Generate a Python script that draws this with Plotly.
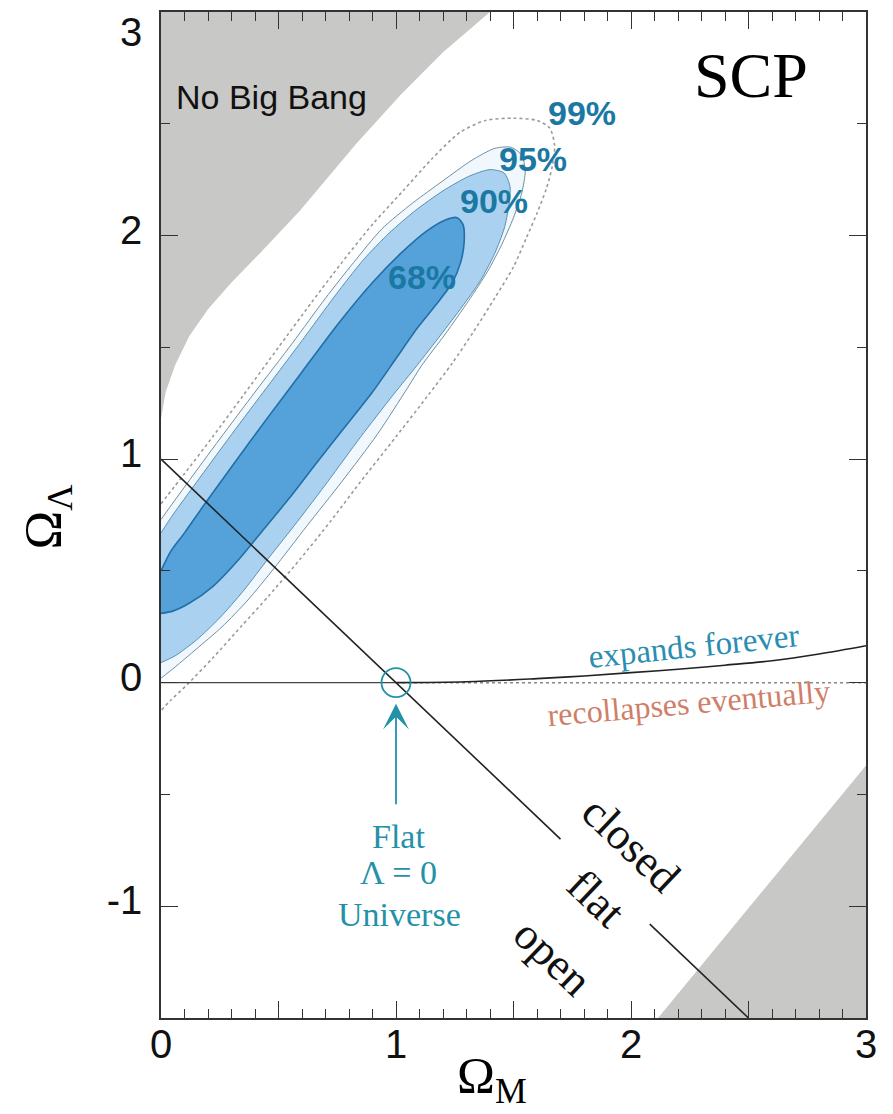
import plotly.graph_objects as go

# ---------------- data ----------------
# "No Big Bang" excluded region (upper left)
nbb_x = [0.0, 1.40, 1.20, 1.02, 0.83, 0.59, 0.42, 0.30, 0.20, 0.12, 0.06, 0.02, 0.0]
nbb_y = [3.0, 3.0, 2.82, 2.63, 2.41, 2.11, 1.92, 1.79, 1.67, 1.55, 1.42, 1.30, 1.18]

# excluded region (lower right)
lr_x = [2.115, 3.0, 3.0]
lr_y = [-1.5, -0.37, -1.5]

# confidence contours
c99_x = [0.0, 0.10, 0.22, 0.35, 0.50, 0.64, 0.77, 0.90, 1.03, 1.15, 1.27, 1.38, 1.50, 1.60,
         1.655, 1.675, 1.665, 1.64, 1.60, 1.555, 1.50, 1.42, 1.33, 1.24, 1.14, 1.00, 0.85,
         0.72, 0.59, 0.46, 0.34, 0.22, 0.11, 0.04, 0.0]
c99_y = [0.80, 0.935, 1.10, 1.285, 1.50, 1.70, 1.88, 2.05, 2.20, 2.34, 2.46, 2.515, 2.525, 2.515,
         2.48, 2.40, 2.31, 2.21, 2.10, 1.99, 1.86, 1.72, 1.57, 1.43, 1.29, 1.10, 0.90,
         0.72, 0.55, 0.39, 0.25, 0.11, -0.01, -0.08, -0.125]

c95_x = [0.0, 0.11, 0.25, 0.40, 0.56, 0.70, 0.82, 0.94, 1.07, 1.20, 1.32, 1.42, 1.49, 1.535,
         1.55, 1.535, 1.50, 1.45, 1.39, 1.31, 1.21, 1.11, 1.05, 0.92, 0.77, 0.62, 0.48, 0.37,
         0.26, 0.15, 0.06, 0.0]
c95_y = [0.73, 0.89, 1.09, 1.30, 1.52, 1.72, 1.88, 2.03, 2.145, 2.245, 2.335, 2.39, 2.395, 2.36,
         2.29, 2.19, 2.08, 1.96, 1.84, 1.71, 1.56, 1.42, 1.32, 1.11, 0.90, 0.70, 0.51, 0.37,
         0.25, 0.15, 0.07, 0.02]

c90_x = [0.0, 0.05, 0.15, 0.30, 0.45, 0.60, 0.74, 0.86, 0.97, 1.08, 1.20, 1.31, 1.40, 1.46,
         1.485, 1.48, 1.46, 1.42, 1.36, 1.28, 1.19, 1.09, 0.99, 0.85, 0.71, 0.58, 0.46, 0.35,
         0.25, 0.15, 0.06, 0.0]
c90_y = [0.67, 0.75, 0.895, 1.11, 1.32, 1.53, 1.73, 1.89, 2.01, 2.11, 2.20, 2.265, 2.295, 2.28,
         2.22, 2.13, 2.03, 1.92, 1.80, 1.68, 1.555, 1.42, 1.29, 1.10, 0.90, 0.72, 0.56, 0.41,
         0.29, 0.19, 0.12, 0.09]

c68_x = [0.0, 0.04, 0.10, 0.18, 0.30, 0.45, 0.60, 0.75, 0.90, 1.02, 1.13, 1.21, 1.26, 1.285,
         1.29, 1.275, 1.24, 1.17, 1.09, 1.00, 0.90, 0.78, 0.66, 0.55, 0.44, 0.33, 0.22, 0.12,
         0.05, 0.0]
c68_y = [0.50, 0.585, 0.67, 0.79, 0.965, 1.18, 1.39, 1.60, 1.79, 1.92, 2.02, 2.07, 2.08, 2.05,
         1.97, 1.88, 1.79, 1.69, 1.585, 1.45, 1.30, 1.14, 0.98, 0.83, 0.69, 0.55, 0.43, 0.355,
         0.32, 0.31]

# flat-universe line (Omega_M + Omega_L = 1), broken around the "flat" label
flat1_x = [0.0, 1.70]
flat1_y = [1.0, -0.70]
flat2_x = [2.08, 2.5]
flat2_y = [-1.08, -1.5]

# Lambda = 0 line
zero_solid_x = [0.0, 1.0]
zero_solid_y = [0.0, 0.0]
zero_dot_x = [1.0, 3.0]
zero_dot_y = [0.0, 0.0]

# expands forever / recollapses boundary
exp_x = [1.0, 1.3, 1.6, 1.8, 2.0, 2.2, 2.4, 2.6, 2.8, 3.0]
exp_y = [0.0, 0.004, 0.018, 0.030, 0.045, 0.060, 0.078, 0.098, 0.128, 0.165]

# flat Lambda=0 universe point
pt_x = [1.0]
pt_y = [0.0]

# labels
pct_labels = ["99%", "95%", "90%", "68%"]
pct_x = [1.79, 1.583, 1.415, 1.11]
pct_y = [2.549, 2.344, 2.155, 1.815]

x_tickvals = [0, 0.5, 1, 1.5, 2, 2.5, 3]
x_ticktext = ["0", "", "1", "", "2", "", "3"]
y_tickvals = [-1, 0, 1, 2, 3]
y_ticktext = ["-1", "0", "1", "2", "<br>3"]

# ---------------- styles ----------------
GRAY = "#c8c8c6"
DARK = "#55a2db"
LIGHT = "#aad2f0"
PALE = "#f1f8fd"
PCT = "#1a78a3"
TEAL = "#2392a8"
SANS = "Liberation Sans, Arial, sans-serif"
SERIF = "Liberation Serif, Times New Roman, serif"

fig = go.Figure()

def poly(x, y, fill, lc, lw, dash="solid", shape="spline"):
    fig.add_trace(go.Scatter(
        x=x, y=y, mode="lines", fill="toself", fillcolor=fill,
        line=dict(color=lc, width=lw, dash=dash, shape=shape, smoothing=0.7),
        hoverinfo="skip", showlegend=False))

poly(nbb_x, nbb_y, GRAY, "rgba(0,0,0,0)", 0, shape="linear")
poly(lr_x, lr_y, GRAY, "rgba(0,0,0,0)", 0, shape="linear")
poly(c99_x, c99_y, "rgba(255,255,255,0)", "#9a9a9a", 1.6, dash="dot")
poly(c95_x, c95_y, PALE, "#6f8f9f", 1.0)
poly(c90_x, c90_y, LIGHT, "#5b8fae", 1.0)
poly(c68_x, c68_y, DARK, "#236ea6", 1.6)

def line(x, y, color, width, dash="solid", shape="linear"):
    fig.add_trace(go.Scatter(
        x=x, y=y, mode="lines",
        line=dict(color=color, width=width, dash=dash, shape=shape),
        hoverinfo="skip", showlegend=False))

line(zero_solid_x, zero_solid_y, "#444", 1.3)
line(zero_dot_x, zero_dot_y, "#888", 1.5, dash="dot")
line(exp_x, exp_y, "#222", 1.6, shape="spline")
line(flat1_x, flat1_y, "#222", 1.6)
line(flat2_x, flat2_y, "#222", 1.6)

fig.add_trace(go.Scatter(
    x=pt_x, y=pt_y, mode="markers",
    marker=dict(symbol="circle-open", size=29, color=TEAL, line=dict(width=1.8, color=TEAL)),
    hoverinfo="skip", showlegend=False))

ann = []
for t, x, y in zip(pct_labels, pct_x, pct_y):
    ann.append(dict(x=x, y=y, text="<b>" + t + "</b>", showarrow=False,
                    font=dict(family=SANS, size=34, color=PCT)))

ann += [
    dict(x=0.472, y=2.622, text="No Big Bang", showarrow=False,
         font=dict(family=SANS, size=34, color="#111")),
    dict(x=2.51, y=2.715, text="SCP", showarrow=False,
         font=dict(family=SERIF, size=64, color="#000")),
    dict(x=2.27, y=0.165, text="expands forever", showarrow=False, textangle=-6,
         font=dict(family=SERIF, size=33, color="#2a8db2")),
    dict(x=2.243, y=-0.092, text="recollapses eventually", showarrow=False, textangle=-5,
         font=dict(family=SERIF, size=32, color="#cf7f69")),
    dict(x=2.0, y=-0.72, text="closed", showarrow=False, textangle=43.6,
         font=dict(family=SERIF, size=45, color="#111")),
    dict(x=1.85, y=-0.965, text="flat", showarrow=False, textangle=43.6,
         font=dict(family=SERIF, size=45, color="#111")),
    dict(x=1.665, y=-1.228, text="open", showarrow=False, textangle=43.6,
         font=dict(family=SERIF, size=45, color="#111")),
    dict(x=1.009, y=-0.6875, text="Flat", showarrow=False,
         font=dict(family=SERIF, size=34, color=TEAL)),
    dict(x=1.009, y=-0.848, text="Λ = 0", showarrow=False,
         font=dict(family=SERIF, size=34, color=TEAL)),
    dict(x=1.013, y=-1.036, text="Universe", showarrow=False,
         font=dict(family=SERIF, size=34, color=TEAL)),
    # arrow pointing at the flat Lambda=0 universe
    dict(x=1.0, y=-0.094, ax=0, ay=102, text="", showarrow=True,
         arrowhead=3, arrowsize=2.4, arrowwidth=1.8, arrowcolor=TEAL),
    # axis titles
    dict(xref="paper", yref="paper", x=0.470, y=-0.027, yanchor="top",
         text="Ω<sub>M</sub>", showarrow=False,
         font=dict(family=SERIF, size=51, color="#000")),
    dict(xref="paper", yref="paper", x=-0.210, y=0.499, textangle=-90,
         text="Ω<sub>Λ</sub>", showarrow=False,
         font=dict(family=SERIF, size=52, color="#000")),
]

axis_common = dict(
    showgrid=False, zeroline=False, showline=True, linecolor="#333", linewidth=1.5,
    mirror="ticks", ticks="inside", tickcolor="#333", tickwidth=1.2, ticklen=17,
    tickfont=dict(family=SANS, size=40, color="#111"), tickmode="array",
    ticklabeloverflow="allow",
)

fig.update_layout(
    width=885, height=1106,
    margin=dict(l=153, r=27, t=2, b=96),
    paper_bgcolor="white", plot_bgcolor="white",
    xaxis=dict(range=[0, 3], tickvals=x_tickvals, ticktext=x_ticktext,
               minor=dict(tick0=0, dtick=0.1, ticks="inside", ticklen=9,
                          tickwidth=1, tickcolor="#333"),
               ticklabelstandoff=-10,
               **axis_common),
    yaxis=dict(range=[-1.5, 3], tickvals=y_tickvals, ticktext=y_ticktext,
               minor=dict(tick0=0, dtick=0.5, ticks="inside", ticklen=9,
                          tickwidth=1, tickcolor="#333"),
               ticklabelshift=-6, ticklabelstandoff=9,
               **axis_common),
    annotations=ann,
    showlegend=False,
)

fig.write_html("out.html", config={"displayModeBar": False})
